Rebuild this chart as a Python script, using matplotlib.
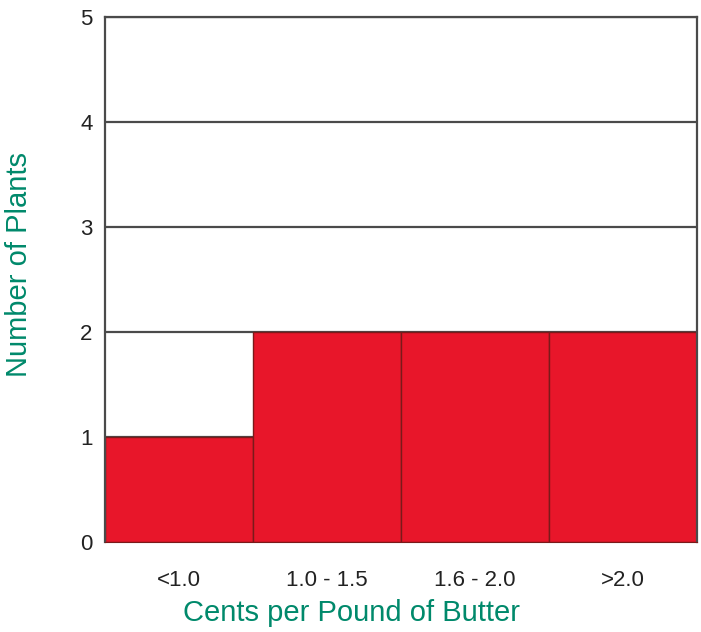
import matplotlib.pyplot as plt
import numpy as np

plt.rcParams['font.family'] = ['Liberation Sans', 'DejaVu Sans']

categories = ['<1.0', '1.0 - 1.5', '1.6 - 2.0', '>2.0']
plants = [1, 2, 2, 2]
yticks = [0, 1, 2, 3, 4, 5]

fig = plt.figure(figsize=(7.01, 6.32), dpi=100)
ax = fig.add_axes([0.150, 0.1424, 0.844, 0.8307])

x = np.arange(len(categories))
ax.bar(x, plants, width=1.0, color='#e8162a', edgecolor='#7a1a1a', linewidth=1.0, zorder=2)

ax.set_xlim(-0.5, len(categories) - 0.5)
ax.set_ylim(0, 5)
ax.set_yticks(yticks)
ax.set_xticks(x)
ax.set_xticklabels(categories)
ax.tick_params(axis='both', length=0, labelsize=16, colors='#222222')
ax.tick_params(axis='x', pad=20)
ax.tick_params(axis='y', pad=9)

ax.yaxis.grid(True, color='#4a4a4a', linewidth=1.6, zorder=1)
for s in ['left', 'top', 'right']:
    ax.spines[s].set_color('#4a4a4a')
    ax.spines[s].set_linewidth(1.6)
ax.spines['bottom'].set_color('#7a1a1a')

ax.set_ylabel('Number of Plants', color='#00896b', fontsize=21)
ax.set_xlabel('Cents per Pound of Butter', color='#00896b', fontsize=21)
ax.yaxis.set_label_coords(-0.122, 0.528)
ax.xaxis.set_label_coords(0.417, -0.108)

fig.savefig('out.png', dpi=100)
